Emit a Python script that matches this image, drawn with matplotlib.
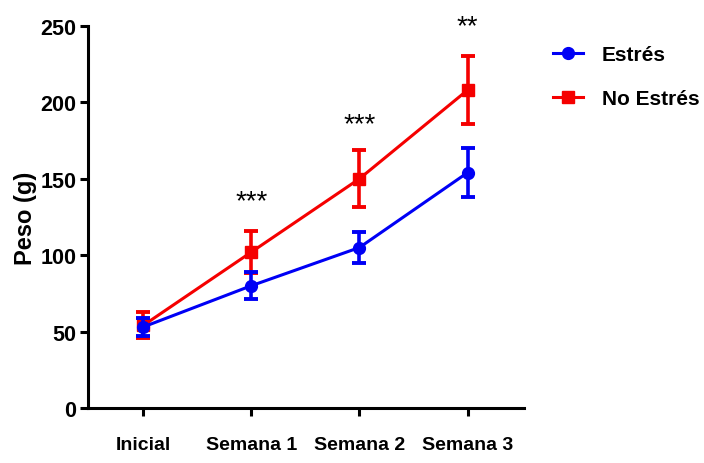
import matplotlib.pyplot as plt
from matplotlib.lines import Line2D

# Datos
etiquetas = ['Inicial', 'Semana 1', 'Semana 2', 'Semana 3']
estres = [53, 80, 105, 154]
estres_err = [6, 9, 10, 16]
no_estres = [54, 102, 150, 208]
no_estres_err = [8.5, 13.5, 18.5, 22]
estrellas = ['', '***', '***', '**']
estrellas_y = [0, 135, 186, 250]

azul = '#0000f5'
rojo = '#f50000'
fuente = ['Liberation Sans', 'DejaVu Sans']

fig = plt.figure(figsize=(7.04, 4.64), dpi=100)
ax = fig.add_axes([0.125, 0.1185, 0.619, 0.8235])

x = list(range(len(etiquetas)))

ax.errorbar(x, no_estres, yerr=no_estres_err, color=rojo, marker='s', markersize=9,
            lw=2.2, elinewidth=2.6, capsize=5, capthick=2.8, zorder=2)
ax.errorbar(x, estres, yerr=estres_err, color=azul, marker='o', markersize=8.5,
            lw=2.2, elinewidth=2.6, capsize=5, capthick=2.8, zorder=3)

for xi, s, yi in zip(x, estrellas, estrellas_y):
    if s:
        ax.text(xi, yi, s, ha='center', va='center', fontsize=20,
                family=fuente, clip_on=False)

ax.set_xlim(-0.51, 3.52)
ax.set_ylim(0, 250)
ax.set_yticks([0, 50, 100, 150, 200, 250])
ax.set_xticks(x)
ax.set_xticklabels(etiquetas, family=fuente, fontweight='bold', fontsize=14)
for lab in ax.get_yticklabels():
    lab.set_family(fuente)
    lab.set_fontweight('bold')
    lab.set_fontsize(15.5)
ax.tick_params(axis='both', direction='out', length=6, width=2.2, pad=2.5)
ax.tick_params(axis='x', pad=14)

for side in ['top', 'right']:
    ax.spines[side].set_visible(False)
for side in ['left', 'bottom']:
    ax.spines[side].set_linewidth(2.2)

ax.set_ylabel('Peso (g)', family=fuente, fontweight='bold', fontsize=17, labelpad=2)

handles = [Line2D([], [], color=azul, marker='o', markersize=8.5, lw=2.2),
           Line2D([], [], color=rojo, marker='s', markersize=9, lw=2.2)]
fig.legend(handles, ['Estrés', 'No Estrés'], loc='upper left',
           bbox_to_anchor=(0.785, 0.90), frameon=False, borderpad=0,
           borderaxespad=0,
           prop={'family': fuente, 'weight': 'bold', 'size': 15},
           handlelength=1.45, handletextpad=0.9, labelspacing=1.2)

plt.savefig('out.png', dpi=100)
